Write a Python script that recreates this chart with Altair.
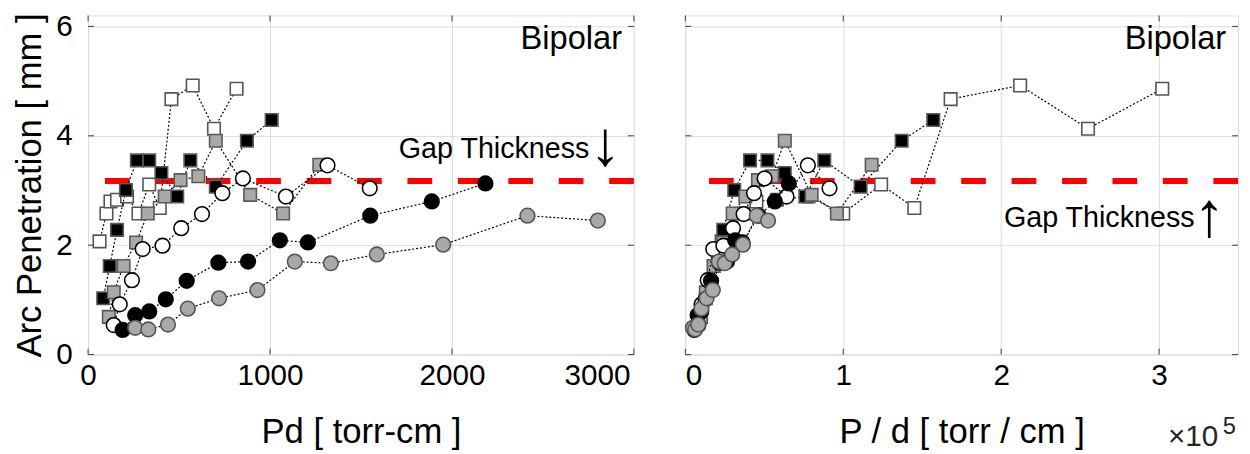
import altair as alt
import pandas as pd

FONT = "Liberation Sans"

# ---------------- data ----------------
# Pd [torr-cm] (left panel), P/d [torr/cm] (right panel), arc penetration [mm]
pd_open_sq = [63, 101, 123, 159, 214, 277, 336, 394, 458, 575, 692, 816]
pod_open_sq = [23000, 37000, 45000, 58000, 78000, 100000, 124000, 145000, 168000, 212000, 255000, 302000]
y_open_sq = [2.07, 2.58, 2.80, 2.83, 2.89, 2.58, 3.11, 2.68, 4.67, 4.92, 4.13, 4.86]

pd_black_sq = [83, 119, 159, 208, 268, 336, 403, 490, 562, 702, 873, 1009]
pod_black_sq = [13000, 18000, 24000, 31000, 41000, 52000, 63000, 76000, 88000, 111000, 137000, 157000]
y_black_sq = [1.03, 1.62, 2.28, 3.01, 3.55, 3.55, 3.32, 2.89, 3.55, 3.07, 3.91, 4.29]

pd_gray_sq = [114, 141, 195, 264, 328, 421, 508, 606, 702, 891, 1072, 1271]
pod_gray_sq = [10000, 13000, 18000, 24000, 30000, 38000, 46000, 55000, 63000, 80000, 96000, 118000]
y_gray_sq = [0.69, 1.14, 1.62, 2.05, 2.58, 2.89, 3.19, 3.26, 3.91, 2.92, 2.58, 3.47]

pd_open_ci = [141, 174, 241, 300, 409, 512, 626, 738, 851, 1087, 1316, 1548]
pod_open_ci = [8300, 10300, 14200, 17700, 24100, 30200, 36900, 43500, 50200, 64100, 77600, 91300]
y_open_ci = [0.54, 0.92, 1.36, 1.93, 1.99, 2.31, 2.57, 2.95, 3.22, 2.89, 3.46, 3.04]

pd_black_ci = [190, 259, 336, 427, 542, 716, 879, 1054, 1208, 1551, 1889, 2184]
pod_black_ci = [5700, 7800, 10100, 12800, 16300, 21500, 26400, 31600, 36200, 46500, 56700, 65500]
y_black_ci = [0.45, 0.72, 0.79, 1.01, 1.35, 1.68, 1.70, 2.09, 2.05, 2.54, 2.80, 3.13]

pd_gray_ci = [259, 331, 439, 548, 720, 931, 1136, 1334, 1587, 1952, 2415, 2802]
pod_gray_ci = [4800, 6200, 8200, 10200, 13500, 17400, 21200, 24900, 29700, 36500, 45200, 52400]
y_gray_ci = [0.49, 0.46, 0.55, 0.84, 1.03, 1.18, 1.70, 1.67, 1.83, 2.01, 2.54, 2.45]

gap_thickness = [3.175]

x_ticks_left = [0, 1000, 2000, 3000]
x_ticks_right = [0, 100000, 200000, 300000]
y_ticks = [0, 2, 4, 6]

title_y = "Arc Penetration [ mm ]"
title_x_left = "Pd [ torr-cm ]"
title_x_right = "P / d [ torr / cm ]"
label_bipolar = ["Bipolar"]
label_gap = ["Gap Thickness"]
arrow_down = ["\u2193"]
arrow_up = ["\u2191"]
label_x10 = ["\u00d710"]
label_exp = ["5"]

# ---------------- styles ----------------
series = [
    ("open_sq", pd_open_sq, pod_open_sq, y_open_sq, "square", "#ffffff", "#555555"),
    ("black_sq", pd_black_sq, pod_black_sq, y_black_sq, "square", "#000000", "#5a5a5a"),
    ("gray_sq", pd_gray_sq, pod_gray_sq, y_gray_sq, "square", "#a9a9a9", "#5a5a5a"),
    ("open_ci", pd_open_ci, pod_open_ci, y_open_ci, "circle", "#ffffff", "#000000"),
    ("black_ci", pd_black_ci, pod_black_ci, y_black_ci, "circle", "#000000", "#000000"),
    ("gray_ci", pd_gray_ci, pod_gray_ci, y_gray_ci, "circle", "#a9a9a9", "#555555"),
]

H = 343
W_LEFT = 552
W_RIGHT = 559
GRID = "#dedede"
TXT = "#262626"


def yenc(left):
    if left:
        ax = alt.Axis(values=y_ticks, title=title_y, grid=True, ticks=False, tickSize=0,
                      domain=False, labelPadding=16, titlePadding=8,
                      labelFontSize=30, titleFontSize=35, titleFontWeight="normal",
                      format="d")
    else:
        ax = alt.Axis(values=y_ticks, title=None, grid=True, ticks=False, tickSize=0,
                      domain=False, labels=False)
    return alt.Y("y:Q", scale=alt.Scale(domain=[0, 6.2], nice=False, zero=False), axis=ax)


def xenc(left):
    if left:
        ax = alt.Axis(values=x_ticks_left, title=title_x_left, grid=True, ticks=False,
                      tickSize=0, domain=False, labelPadding=6.5, titlePadding=24,
                      labelFontSize=30, titleFontSize=35, titleFontWeight="normal", format="d",
                      labelAlign={"condition": {"test": "datum.value >= 3000", "value": "right"},
                                  "value": "center"},
                      labelOffset={"condition": {"test": "datum.value >= 3000", "value": -4},
                                   "value": 0})
        return alt.X("x:Q", scale=alt.Scale(domain=[0, 3000], nice=False, zero=False), axis=ax)
    ax = alt.Axis(values=x_ticks_right, title=title_x_right, grid=True, ticks=False,
                  tickSize=0, domain=False, labelPadding=6.5, titlePadding=24,
                  labelFontSize=30, titleFontSize=35, titleFontWeight="normal", labelFlush=True,
                  labelExpr="format(datum.value / 100000, 'd')")
    return alt.X("x:Q", scale=alt.Scale(domain=[0, 350000], nice=False, zero=False), axis=ax)


def text_layer(values, x, y, size, align="right", baseline="alphabetic", color="#000000"):
    return (
        alt.Chart(pd.DataFrame({"t": values}))
        .mark_text(align=align, baseline=baseline, fontSize=size, font=FONT, color=color)
        .encode(text="t:N", x=alt.value(x), y=alt.value(y))
    )


def panel(left):
    W = W_LEFT if left else W_RIGHT
    layers = []
    # red dashed gap thickness line
    layers.append(
        alt.Chart(pd.DataFrame({"y": gap_thickness}))
        .mark_rule(color="#ff0000", strokeWidth=6, strokeDash=[25, 26])
        .encode(y=yenc(left))
    )
    for key, xs_l, xs_r, ys, shape, fill, stroke in series:
        xs = xs_l if left else xs_r
        df = pd.DataFrame({"x": xs, "y": ys, "i": list(range(len(xs)))})
        base = alt.Chart(df)
        layers.append(
            base.mark_line(color="#000000", strokeWidth=1.2, strokeDash=[2, 2])
            .encode(x=xenc(left), y=yenc(left), order="i:Q")
        )
        size = 160 if shape == "square" else 220
        layers.append(
            base.mark_point(shape=shape, size=size, filled=True, fill=fill, stroke=stroke,
                            strokeWidth=1.6, opacity=1, fillOpacity=1, strokeOpacity=1)
            .encode(x=xenc(left), y=yenc(left))
        )
    # inward ticks (MATLAB style)
    xt = x_ticks_left if left else x_ticks_right
    ydf = pd.DataFrame({"y": y_ticks})
    xdf = pd.DataFrame({"x": xt})
    tick_style = dict(color="#404040", strokeWidth=1)
    layers.append(alt.Chart(ydf).mark_rule(**tick_style).encode(
        y=yenc(left), x=alt.value(0), x2=alt.value(6)))
    layers.append(alt.Chart(ydf).mark_rule(**tick_style).encode(
        y=yenc(left), x=alt.value(W - 6), x2=alt.value(W)))
    layers.append(alt.Chart(xdf).mark_rule(**tick_style).encode(
        x=xenc(left), y=alt.value(H - 6), y2=alt.value(H)))
    layers.append(alt.Chart(xdf).mark_rule(**tick_style).encode(
        x=xenc(left), y=alt.value(0), y2=alt.value(6)))
    # annotations
    layers.append(text_layer(label_bipolar, W - 12, 34, 33))
    if left:
        layers.append(text_layer(label_gap, 507, 144, 29))
        layers.append(text_layer(arrow_down, 523, 132, 64, align="center", baseline="middle"))
    else:
        layers.append(text_layer(label_gap, 515, 214, 29))
        layers.append(text_layer(arrow_up, 530, 204, 64, align="center", baseline="middle"))
        layers.append(text_layer(label_x10, 539, 435, 30, color=TXT))
        layers.append(text_layer(label_exp, 557, 423, 24, color=TXT))
    return alt.layer(*layers).properties(width=W, height=H)


chart = (
    alt.hconcat(panel(True), panel(False), spacing=44)
    .properties(padding={"left": 4, "top": 0, "right": 0, "bottom": 0})
    .configure_view(stroke="#404040", strokeWidth=1.5)
    .configure_axis(labelFont=FONT, titleFont=FONT, labelColor=TXT, titleColor=TXT,
                    gridColor=GRID, gridWidth=1, titleFontWeight="normal")
    .configure(background="#ffffff")
)

chart.save("out.html", embed_options={"renderer": "svg", "actions": False})
